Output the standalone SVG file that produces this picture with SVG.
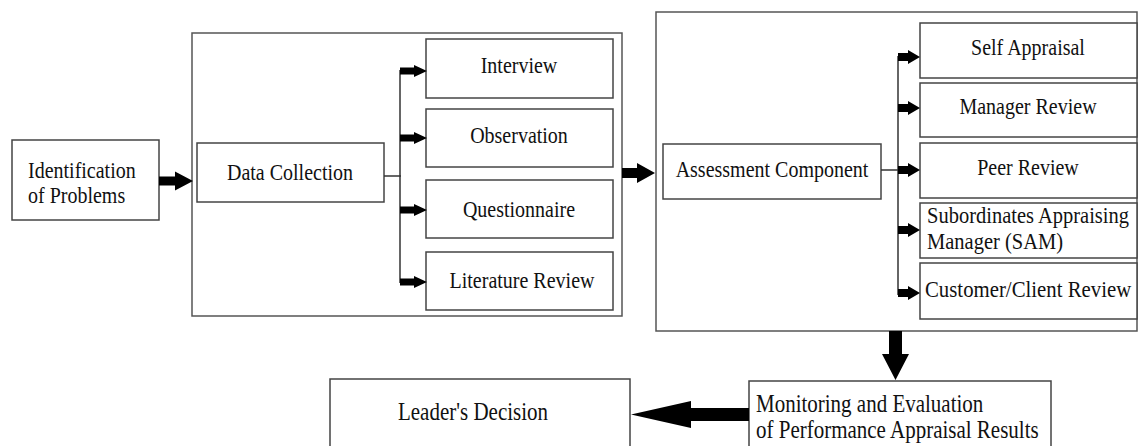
<svg xmlns="http://www.w3.org/2000/svg" width="1138" height="446" viewBox="0 0 1138 446">
<style>
.box{fill:#fff;stroke:#444;stroke-width:1.5}
.outer{fill:#fff;stroke:#555;stroke-width:1.5}
.t{font-family:'Liberation Serif','Times New Roman',Tinos,'DejaVu Serif',serif;font-size:20px;fill:#111}
.m{text-anchor:middle}
.ln{stroke:#333;stroke-width:1.5;fill:none}
.ar{fill:#000}
</style>
<rect width="1138" height="446" fill="#fff"/>
<g id="dc-group"><rect class="outer" x="192" y="33" width="430" height="283"/></g>
<g id="ac-group"><rect class="outer" x="656" y="12" width="481" height="319"/></g>

<g id="identification">
<rect class="box" x="12" y="140" width="147" height="80"/>
<text class="t" transform="translate(28 178) scale(1 1.15)">Identification</text>
<text class="t" transform="translate(28 203) scale(1 1.15)">of Problems</text>
</g>
<g id="data-collection">
<rect class="box" x="197" y="143" width="187" height="59"/>
<text class="t m" transform="translate(290 180) scale(1 1.15)">Data Collection</text>
</g>
<g id="interview">
<rect class="box" x="426" y="39" width="187" height="59"/>
<text class="t m" transform="translate(519 73) scale(1 1.15)">Interview</text>
</g>
<g id="observation">
<rect class="box" x="426" y="109" width="187" height="58"/>
<text class="t m" transform="translate(519 143) scale(1 1.15)">Observation</text>
</g>
<g id="questionnaire">
<rect class="box" x="426" y="180" width="187" height="58"/>
<text class="t m" transform="translate(519 217) scale(1 1.15)">Questionnaire</text>
</g>
<g id="literature-review">
<rect class="box" x="426" y="252" width="187" height="58"/>
<text class="t m" transform="translate(522 288) scale(1 1.15)">Literature Review</text>
</g>
<g id="assessment-component">
<rect class="box" x="663" y="144" width="218" height="55"/>
<text class="t m" transform="translate(772 177) scale(1 1.15)">Assessment Component</text>
</g>
<g id="self-appraisal">
<rect class="box" x="920" y="23" width="217" height="55"/>
<text class="t m" transform="translate(1028 55) scale(1 1.15)">Self Appraisal</text>
</g>
<g id="manager-review">
<rect class="box" x="920" y="83" width="217" height="54"/>
<text class="t m" transform="translate(1028 114) scale(1 1.15)">Manager Review</text>
</g>
<g id="peer-review">
<rect class="box" x="920" y="143" width="217" height="55"/>
<text class="t m" transform="translate(1028 175) scale(1 1.15)">Peer Review</text>
</g>
<g id="sam">
<rect class="box" x="920" y="203" width="217" height="55"/>
<text class="t" style="font-size:20.5px" transform="translate(927 223) scale(1 1.15)">Subordinates Appraising</text>
<text class="t" style="font-size:20.5px" transform="translate(927 249) scale(1 1.15)">Manager (SAM)</text>
</g>
<g id="customer-client-review">
<rect class="box" x="920" y="263" width="217" height="56"/>
<text class="t" style="font-size:20.8px" transform="translate(925 297) scale(1 1.15)">Customer/Client Review</text>
</g>
<g id="monitoring">
<rect class="box" x="749" y="381" width="302" height="80"/>
<text class="t" style="font-size:21px" transform="translate(756 412) scale(1 1.22)">Monitoring and Evaluation</text>
<text class="t" style="font-size:21px" transform="translate(756 438) scale(1 1.22)">of Performance Appraisal Results</text>
</g>
<g id="leaders-decision">
<rect class="box" x="330" y="379" width="300" height="80"/>
<text class="t m" style="font-size:21px" transform="translate(473 420) scale(1 1.15)">Leader's Decision</text>
</g>

<g id="connectors">
<polygon class="ar" points="159,176.5 175,176.5 175,171.5 193,181 175,190.5 175,185.5 159,185.5"/>
<polyline class="ln" points="384,176 401,176"/>
<line class="ln" x1="400" y1="70" x2="400" y2="283"/>
<polygon class="ar" points="400,67.5 414,67.5 414,65 427,71 414,77 414,74.5 400,74.5"/>
<polygon class="ar" points="400,134.5 414,134.5 414,132 427,138 414,144 414,141.5 400,141.5"/>
<polygon class="ar" points="400,206.5 414,206.5 414,204 427,210 414,216 414,213.5 400,213.5"/>
<polygon class="ar" points="400,278.5 414,278.5 414,276 427,282 414,288 414,285.5 400,285.5"/>
<polygon class="ar" points="622,168 637,168 637,163 655,173 637,183 637,178 622,178"/>
<polyline class="ln" points="881,170 899,170"/>
<line class="ln" x1="898" y1="56" x2="898" y2="295"/>
<polygon class="ar" points="898,53 908,53 908,50 920,57 908,64 908,61 898,61"/>
<polygon class="ar" points="898,104 908,104 908,101 920,108 908,115 908,112 898,112"/>
<polygon class="ar" points="898,166 908,166 908,163 920,170 908,177 908,174 898,174"/>
<polygon class="ar" points="898,226 908,226 908,223 920,230 908,237 908,234 898,234"/>
<polygon class="ar" points="898,289 908,289 908,286 920,293 908,300 908,297 898,297"/>
<polygon class="ar" points="889,331 902,331 902,354 909,354 895.5,380 882,354 889,354"/>
<polygon class="ar" points="749,408 691,408 691,401 631,414.5 691,428 691,421 749,421"/>
</g>
</svg>
